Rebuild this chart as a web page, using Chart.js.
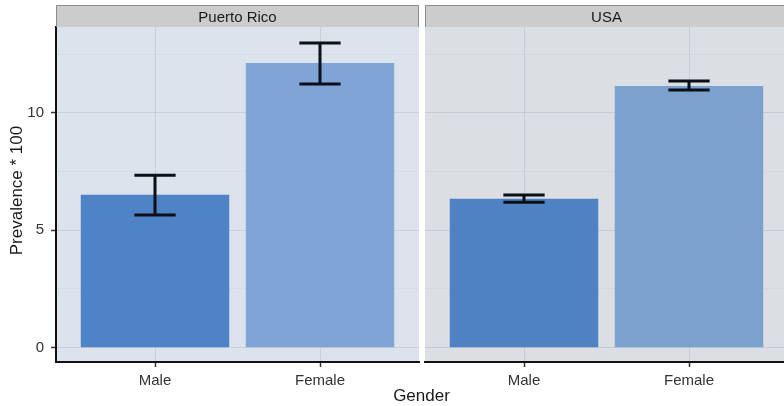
<!DOCTYPE html>
<html>
<head>
<meta charset="utf-8">
<script src="https://cdn.jsdelivr.net/npm/chart.js@4.4.0/dist/chart.umd.min.js"></script>
<style>
  html, body { margin: 0; padding: 0; background: #ffffff; overflow: hidden; }
  #wrap { position: relative; width: 784px; height: 406px; overflow: hidden; }
  #wrap canvas { position: absolute; left: 0; top: 0; }
</style>
</head>
<body>
<div id="wrap">
  <canvas id="pr" width="800" height="406"></canvas>
  <canvas id="usa" width="800" height="406"></canvas>
</div>
<script>
// Prevalence (x100) by gender, with confidence limits
const genders = ['Male', 'Female'];
const prPrevalence = [6.51, 12.13];
const prLower = [5.65, 11.23];
const prUpper = [7.35, 12.98];
const usaPrevalence = [6.34, 11.15];
const usaLower = [6.20, 10.98];
const usaUpper = [6.50, 11.36];
const yMajorTicks = [0, 5, 10];
const yMinorTicks = [2.5, 7.5, 12.5];

const FONT = '"Liberation Sans", Arial, Helvetica, sans-serif';
const W = 800, H = 406;
const PLOT_TOP = 27, PLOT_BOTTOM = 362;
const STRIP_TOP = 5;
const GRID_MAJOR = 'rgba(140,146,158,0.24)';
const GRID_MINOR = 'rgba(140,146,158,0.09)';

function makePanel(canvasId, cfg) {
  const decor = {
    id: 'panelDecor',
    beforeDraw(chart) {
      const a = chart.chartArea, c = chart.ctx;
      c.save();
      c.fillStyle = cfg.panelBg;
      c.fillRect(a.left, a.top, a.right - a.left, a.bottom - a.top);
      c.restore();
    },
    afterDraw(chart) {
      const a = chart.chartArea, c = chart.ctx;
      // facet strip
      c.save();
      c.fillStyle = '#cccccc';
      c.fillRect(a.left, STRIP_TOP, a.right - a.left, a.top - STRIP_TOP);
      c.strokeStyle = '#8c8c8c';
      c.lineWidth = 1;
      c.beginPath();
      c.moveTo(a.left + 0.5, a.top);
      c.lineTo(a.left + 0.5, STRIP_TOP + 0.5);
      c.lineTo(a.right - 0.5, STRIP_TOP + 0.5);
      c.lineTo(a.right - 0.5, a.top);
      c.stroke();
      c.fillStyle = '#1a1a1a';
      c.font = '15px ' + FONT;
      c.textAlign = 'center';
      c.textBaseline = 'middle';
      c.fillText(cfg.title, (a.left + a.right) / 2, (STRIP_TOP + a.top) / 2 + 1.5);
      if (cfg.axisTitles) {
        c.font = '17px ' + FONT;
        c.fillText('Gender', 421.5, 396);
        c.translate(17, 190.5);
        c.rotate(-Math.PI / 2);
        c.fillText('Prevalence * 100', 0, 0);
      }
      c.restore();
    },
    afterDatasetsDraw(chart) {
      const xs = chart.scales.x, ys = chart.scales.y, c = chart.ctx;
      const half = 0.125 * (xs.getPixelForValue(1) - xs.getPixelForValue(0));
      c.save();
      c.strokeStyle = '#0b0f17';
      c.lineWidth = 3;
      c.lineCap = 'butt';
      genders.forEach((g, i) => {
        const x = xs.getPixelForValue(i);
        const yl = ys.getPixelForValue(cfg.lower[i]);
        const yu = ys.getPixelForValue(cfg.upper[i]);
        c.beginPath();
        c.moveTo(x, yu); c.lineTo(x, yl);
        c.moveTo(x - half, yu); c.lineTo(x + half, yu);
        c.moveTo(x - half, yl); c.lineTo(x + half, yl);
        c.stroke();
      });
      c.restore();
    }
  };

  const isMajor = v => yMajorTicks.includes(v);

  return new Chart(document.getElementById(canvasId), {
    type: 'bar',
    data: {
      datasets: [{
        data: cfg.values.map((v, i) => ({ x: i, y: v })),
        backgroundColor: cfg.barColors,
        borderWidth: 0,
        barPercentage: 0.9,
        categoryPercentage: 1.0
      }]
    },
    options: {
      responsive: false,
      animation: false,
      events: [],
      layout: { padding: { left: cfg.padLeft, right: cfg.padRight, top: PLOT_TOP, bottom: 0 } },
      plugins: { legend: { display: false }, tooltip: { enabled: false } },
      scales: {
        x: {
          type: 'linear',
          min: -0.6,
          max: 1.6,
          offset: false,
          afterBuildTicks: s => { s.ticks = genders.map((g, i) => ({ value: i })); },
          afterFit: s => { s.height = H - PLOT_BOTTOM; },
          ticks: {
            callback: v => genders[v],
            color: '#333333',
            font: { family: FONT, size: 15 },
            padding: 5,
            maxRotation: 0,
            autoSkip: false
          },
          grid: {
            offset: false,
            color: GRID_MAJOR,
            lineWidth: 1,
            drawTicks: true,
            tickLength: 5,
            tickColor: '#333333',
            tickWidth: 1.5
          },
          border: { display: true, color: '#111111', width: 2 }
        },
        y: {
          type: 'linear',
          min: -0.61,
          max: 13.66,
          afterBuildTicks: s => {
            s.ticks = [...yMajorTicks, ...yMinorTicks].sort((a, b) => a - b).map(v => ({ value: v }));
          },
          afterFit: s => { s.width = cfg.yWidth; },
          ticks: {
            display: cfg.showYTicks,
            callback: v => (isMajor(v) ? String(v) : ''),
            color: '#333333',
            font: { family: FONT, size: 15 },
            padding: 7
          },
          grid: {
            color: ctx => (ctx.tick && isMajor(ctx.tick.value)) ? GRID_MAJOR : GRID_MINOR,
            lineWidth: 1,
            drawTicks: cfg.showYTicks,
            tickLength: 5,
            tickColor: ctx => (ctx.tick && isMajor(ctx.tick.value)) ? '#333333' : 'rgba(0,0,0,0)',
            tickWidth: 1.5
          },
          border: { display: cfg.showYTicks, color: '#111111', width: 2 }
        }
      }
    },
    plugins: [decor]
  });
}

makePanel('pr', {
  title: 'Puerto Rico',
  values: prPrevalence, lower: prLower, upper: prUpper,
  barColors: ['#4e83c5', '#7fa5d6'],
  panelBg: '#dde3ec',
  padLeft: 0, padRight: W - 419,
  yWidth: 56, showYTicks: true, axisTitles: true
});

makePanel('usa', {
  title: 'USA',
  values: usaPrevalence, lower: usaLower, upper: usaUpper,
  barColors: ['#4e82c3', '#7ba1cf'],
  panelBg: '#dbdee3',
  padLeft: 425, padRight: W - 788,
  yWidth: 0, showYTicks: false, axisTitles: false
});
</script>
</body>
</html>
